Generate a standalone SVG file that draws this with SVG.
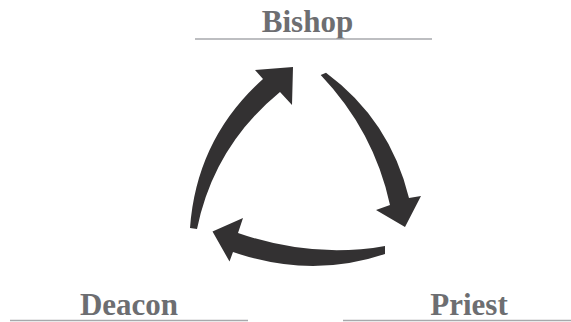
<svg xmlns="http://www.w3.org/2000/svg" width="571" height="322" viewBox="0 0 571 322">
<style>
.lbl{font-family:"Liberation Serif","Times New Roman",serif;font-weight:bold;font-size:31px;fill:#6d6e71;text-anchor:middle}
.rule{stroke:#a7a9ac;stroke-width:1.5;fill:none}
.arrow{fill:#333132;stroke:none}
</style>
<rect width="571" height="322" fill="#ffffff"/>
<g id="bishop">
<text class="lbl" x="307.5" y="32">Bishop</text>
<line class="rule" x1="195" y1="39" x2="432" y2="39"/>
</g>
<g id="deacon">
<text class="lbl" x="129" y="315">Deacon</text>
<line class="rule" x1="10" y1="320.5" x2="248" y2="320.5"/>
</g>
<g id="priest">
<text class="lbl" x="469" y="315">Priest</text>
<line class="rule" x1="343" y1="320.5" x2="571" y2="320.5"/>
</g>
<g id="connectors">
<path class="arrow" d="M190,228 Q196.5,138.5 263,79 L255,70 L293,67 L292,105 L280,92 Q214,146 197,229 Z"/>
<path class="arrow" d="M326,72.7 Q390,120 409,198 L421,196 L405,227 L376,210 L390,205 Q374,131 320.7,75 Z"/>
<path class="arrow" d="M385,246 Q313,259 238,233 L243,218 L212.5,231.5 L229.5,261.5 L233,252 Q311,279 385,254 Z"/>
</g>
</svg>
